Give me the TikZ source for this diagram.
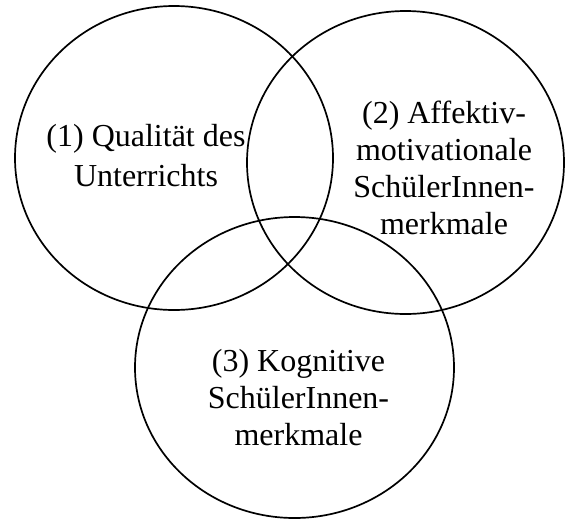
\documentclass[tikz,border=0pt]{standalone}
\usepackage{fontspec}
\setmainfont{Liberation Serif}
\usetikzlibrary{shapes.geometric}
\begin{document}
\begin{tikzpicture}[x=1pt,y=-1pt,
  setring/.style={ellipse, draw=black, line width=1.7pt, inner sep=0pt},
  setlabel/.style={align=center, inner sep=0pt,
    font=\fontsize{32}{37}\selectfont}]
  \useasboundingbox (0,0) rectangle (567,520);
  % the three overlapping sets
  \node[setring, minimum width=318pt, minimum height=304pt] (c1) at (174,158) {};
  \node[setring, minimum width=317pt, minimum height=303pt] (c2) at (405.5,162.5) {};
  \node[setring, minimum width=319pt, minimum height=301pt] (c3) at (294.5,367.5) {};
  % set labels
  \node[setlabel, font=\fontsize{32}{40}\selectfont] (t1) at (146,156) {(1) Qualität des\\Unterrichts};
  \node[setlabel] (t2) at (444,168) {(2) Affektiv-\\motivationale\\SchülerInnen-\\merkmale};
  \node[setlabel] (t3) at (298.5,398) {(3) Kognitive\\SchülerInnen-\\merkmale};
\end{tikzpicture}
\end{document}
